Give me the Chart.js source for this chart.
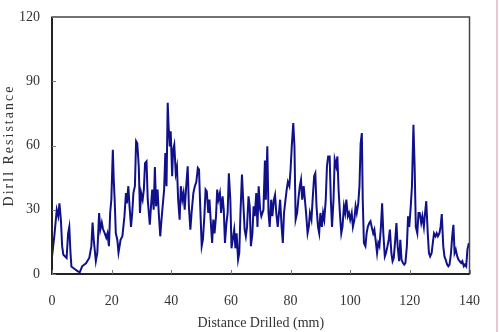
<!DOCTYPE html>
<html>
<head>
<meta charset="utf-8">
<script src="https://cdn.jsdelivr.net/npm/chart.js@4/dist/chart.umd.min.js"></script>
<style>
  html, body { margin: 0; padding: 0; background: #fff; }
  #wrap { position: relative; width: 499px; height: 332px; }
  #edge { position: absolute; left: 496px; top: 0; width: 2px; height: 332px; background: #f2c4cc; }
</style>
</head>
<body>
<div id="wrap">
  <canvas id="c" width="499" height="332"></canvas>
  <div id="edge"></div>
</div>
<script>
// distance drilled (mm)
var distance = [
  0.0, 0.8, 1.6, 2.1, 2.5, 3.0, 3.4, 3.8, 4.9, 5.4, 5.8, 6.2, 6.5, 7.6, 8.7, 9.3,
  10.1, 11.4, 12.5, 13.2, 13.6, 14.0, 14.7, 15.2, 15.8, 16.2, 16.7, 17.1, 17.7, 18.2, 18.6, 19.1,
  19.5, 19.9, 20.4, 20.7, 21.0, 21.4, 21.9, 22.3, 23.0, 23.6, 24.3, 24.8, 25.1, 25.6, 26.0, 26.5,
  26.9, 27.3, 27.8, 28.2, 28.6, 29.1, 29.5, 29.9, 30.4, 30.8, 31.2, 31.7, 32.1, 32.8, 33.2, 33.6,
  34.1, 34.5, 34.9, 35.4, 35.8, 36.3, 36.7, 37.1, 37.6, 38.0, 38.4, 38.8, 39.1, 39.5, 39.8, 40.3,
  40.6, 41.0, 41.5, 41.9, 42.3, 42.8, 43.2, 43.7, 44.1, 44.5, 45.0, 45.5, 45.9, 46.4, 46.8, 47.4,
  47.9, 48.4, 48.9, 49.3, 49.7, 50.2, 50.6, 51.1, 51.5, 51.9, 52.4, 52.8, 53.2, 53.7, 54.1, 54.5,
  55.0, 55.4, 55.8, 56.3, 56.7, 57.2, 57.6, 58.0, 58.5, 58.9, 59.3, 59.8, 60.2, 60.6, 61.1, 61.5,
  61.9, 62.4, 62.8, 63.2, 63.7, 64.1, 64.6, 65.0, 65.4, 65.9, 66.3, 66.7, 67.2, 67.6, 68.0, 68.5,
  68.9, 69.3, 69.8, 70.2, 70.9, 71.4, 71.7, 72.2, 72.6, 73.0, 73.5, 73.9, 74.4, 74.8, 75.2, 75.7,
  76.1, 76.5, 77.0, 77.4, 77.8, 78.3, 78.7, 79.1, 79.6, 80.0, 80.4, 80.9, 81.3, 81.7, 82.2, 82.6,
  83.1, 83.5, 83.9, 84.4, 84.8, 85.2, 85.7, 86.1, 86.5, 87.0, 87.4, 87.9, 88.3, 88.7, 89.2, 89.6,
  90.0, 90.5, 90.9, 91.3, 91.8, 92.2, 92.6, 93.1, 93.5, 93.9, 94.4, 94.8, 95.3, 95.7, 96.1, 96.6,
  97.0, 97.4, 97.9, 98.3, 98.7, 99.2, 99.6, 100.0, 100.5, 100.9, 101.4, 101.8, 102.2, 102.7, 103.1, 103.5,
  103.9, 104.2, 104.6, 105.1, 105.5, 105.9, 106.4, 106.8, 107.2, 107.7, 108.1, 108.5, 109.0, 109.4, 109.8, 110.3,
  110.7, 111.1, 111.6, 112.0, 112.5, 112.9, 113.3, 113.8, 114.2, 114.6, 115.1, 115.5, 115.9, 116.4, 116.8, 117.2,
  117.7, 118.1, 118.5, 119.0, 119.4, 119.8, 120.3, 120.7, 121.2, 121.6, 122.0, 122.5, 122.9, 123.3, 123.8, 124.2,
  124.7, 125.1, 125.5, 126.0, 126.4, 126.8, 127.3, 127.7, 128.1, 128.6, 129.0, 129.4, 129.9, 130.3, 130.7, 131.2,
  131.6, 132.0, 132.5, 132.9, 133.3, 133.8, 134.2, 134.6, 135.0, 135.4, 135.9, 136.3, 136.7, 137.2, 137.6, 138.1,
  138.5, 138.9, 139.3, 139.8
];
// drill resistance
var resistance = [
  8, 18, 30, 27, 33, 25, 13, 9, 7.5, 19, 22, 10, 3.5, 2.3, 1.2, 0.8,
  3.6, 5, 7.5, 13, 24, 16, 6, 10, 28.5, 20.7, 24, 21, 19, 17, 19, 13,
  28.5, 34.7, 58, 44, 35, 19, 16, 10, 16, 17.6, 27, 37.8, 33, 41, 31.6, 22,
  28.5, 37.8, 41, 62, 61, 50, 28.5, 37.8, 34.7, 39.4, 51.8, 52.6, 34.7, 23, 31.6, 39.4,
  30, 50, 31.6, 39.4, 28.5, 17.6, 25, 31.6, 39.4, 56.5, 41, 80, 69, 59.6, 66.6, 45.6,
  58, 60.4, 47, 50, 34.7, 25.4, 41, 34.7, 37.8, 30, 41, 50.3, 31.6, 20.7, 28.5, 37.8,
  41, 43, 49.5, 48.7, 31.6, 13, 16, 27, 39.4, 38.6, 28.5, 34.7, 25.4, 14.5, 25.4, 19,
  27, 39.4, 34.7, 37.8, 28.5, 36.3, 30, 14.5, 23.8, 28.5, 47, 34.7, 12, 16, 20.7, 12,
  19, 6.7, 9.8, 28.5, 46.4, 34.7, 20.7, 17.6, 22, 36.3, 31.6, 13, 19, 31.6, 27, 37.8,
  22, 41, 30, 27, 30, 53, 34.7, 59.6, 28.5, 22, 34.7, 27, 34.7, 37, 28.5, 22,
  28.5, 34.7, 22, 14.5, 28.5, 34.7, 39.4, 43, 41, 48.7, 59.6, 70.5, 59.6, 25.4, 28.5, 34.7,
  41, 44, 34.7, 41, 34.7, 28.5, 19, 22, 28.5, 25.4, 34.7, 45.6, 47, 31.6, 22, 19,
  28.5, 22, 28.5, 25.4, 34.7, 50.3, 54.9, 54.9, 34.7, 22, 34.7, 53.4, 50.3, 54.9, 39.4, 27,
  19, 22, 31.6, 28.5, 34.7, 27, 28.5, 25.4, 28.5, 22, 25.4, 31.6, 28.5, 33, 41, 61,
  65.8, 34.7, 14.5, 13, 19, 22, 23.8, 24.6, 22, 19, 20.7, 16, 9.8, 14.5, 13, 22,
  33, 19, 8.2, 9.8, 13, 16, 20.7, 9.8, 6, 7.5, 16, 23.8, 13, 6, 16, 6.7,
  5.1, 4.4, 5.1, 13, 27, 22, 31.6, 41, 69.7, 50.3, 22, 19, 28.5, 28.5, 23.8, 27,
  22, 28.5, 34, 19, 9.8, 8.2, 9.8, 14.5, 19, 17.6, 19, 17.6, 19, 22, 28, 13,
  8.2, 6.7, 4.4, 3.6, 4.4, 9.8, 17.6, 23, 9.8, 11.4, 8.2, 6.7, 6, 5.1, 6, 3.6,
  4.4, 3.6, 11.4, 14.5
];
var xTicks = [0, 20, 40, 60, 80, 100, 120, 140];
var yTicks = [0, 30, 60, 90, 120];

var points = [];
for (var i = 0; i < distance.length; i++) {
  points.push({ x: distance[i], y: resistance[i] });
}

var serif = 'Liberation Serif';

// plot frame, inward tick marks and the spaced-out y title
var framePlugin = {
  id: 'frame',
  afterDraw: function(chart) {
    var ctx = chart.ctx;
    var a = chart.chartArea;
    var xs = chart.scales.x, ys = chart.scales.y;
    ctx.save();
    ctx.strokeStyle = '#444';
    ctx.lineWidth = 1.5;
    ctx.strokeRect(a.left, a.top, a.right - a.left, a.bottom - a.top);
    ctx.strokeStyle = '#222';
    ctx.lineWidth = 2;
    ctx.beginPath();
    ctx.moveTo(a.left, a.top);
    ctx.lineTo(a.left, a.bottom);
    ctx.lineTo(a.right, a.bottom);
    ctx.stroke();
    ctx.strokeStyle = '#777';
    ctx.lineWidth = 1;
    ctx.beginPath();
    xTicks.forEach(function(v) {
      var px = Math.round(xs.getPixelForValue(v)) + 0.5;
      ctx.moveTo(px, a.bottom);
      ctx.lineTo(px, a.bottom - 4);
    });
    yTicks.forEach(function(v) {
      var py = Math.round(ys.getPixelForValue(v)) + 0.5;
      ctx.moveTo(a.left, py);
      ctx.lineTo(a.left + 4, py);
    });
    ctx.stroke();

    ctx.translate(9, (a.top + a.bottom) / 2);
    ctx.rotate(-Math.PI / 2);
    ctx.font = '14px "' + serif + '"';
    ctx.letterSpacing = '2px';
    ctx.fillStyle = '#333';
    ctx.textAlign = 'center';
    ctx.textBaseline = 'middle';
    ctx.fillText('Dirll Resistance', 0, 0);
    ctx.restore();
  }
};

new Chart(document.getElementById('c'), {
  type: 'line',
  data: {
    datasets: [{
      data: points,
      borderColor: '#10108a',
      borderWidth: 2,
      pointRadius: 0,
      tension: 0,
      fill: false
    }]
  },
  options: {
    responsive: false,
    animation: false,
    layout: { padding: { left: 0, top: 17, right: 19, bottom: 0 } },
    plugins: { legend: { display: false }, tooltip: { enabled: false } },
    scales: {
      x: {
        type: 'linear',
        min: 0,
        max: 140,
        afterFit: function(s) { s.height = 58; },
        afterBuildTicks: function(s) { s.ticks = xTicks.map(function(v) { return { value: v }; }); },
        grid: { display: false, drawTicks: false },
        border: { display: false },
        ticks: { padding: 19, maxRotation: 0, color: '#333', font: { family: serif, size: 14 } },
        title: { display: true, text: 'Distance Drilled (mm)', color: '#333', padding: { top: 0, bottom: 0 }, font: { family: serif, size: 14 } }
      },
      y: {
        min: 0,
        max: 120,
        afterFit: function(s) { s.width = 52; s.paddingTop = 0; s.paddingBottom = 0; },
        afterBuildTicks: function(s) { s.ticks = yTicks.map(function(v) { return { value: v }; }); },
        grid: { display: false, drawTicks: false },
        border: { display: false },
        ticks: { padding: 12, color: '#333', font: { family: serif, size: 14 } }
      }
    }
  },
  plugins: [framePlugin]
});
</script>
</body>
</html>
